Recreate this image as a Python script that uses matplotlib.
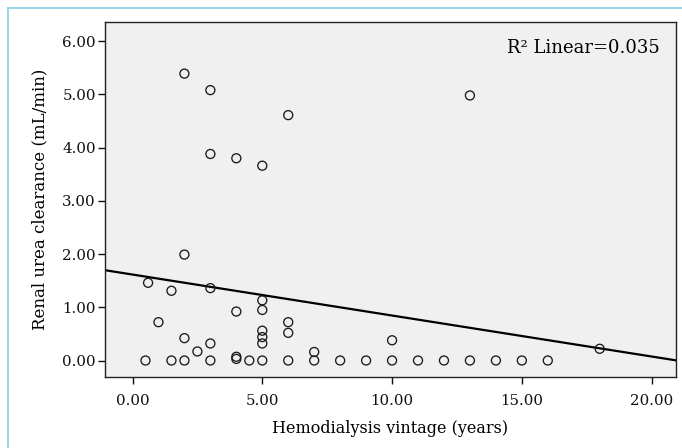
import matplotlib
matplotlib.use("Agg")
import matplotlib.pyplot as plt
from matplotlib.lines import Line2D
import numpy as np

# Data
vintage_years = [2, 3, 6, 13, 3, 4, 5, 2, 0.6, 1.5, 3, 5, 5, 4, 1, 6, 6, 5, 5, 5,
                 2, 3, 2.5, 7, 4, 4, 10, 18,
                 0.5, 1.5, 2, 3, 4.5, 5, 6, 7, 8, 9, 10, 11, 12, 13, 14, 15, 16]
urea_clearance = [5.39, 5.08, 4.61, 4.98, 3.88, 3.80, 3.66, 1.99, 1.46, 1.31, 1.36,
                  1.13, 0.95, 0.92, 0.72, 0.72, 0.52, 0.56, 0.44, 0.32,
                  0.42, 0.32, 0.17, 0.16, 0.07, 0.03, 0.38, 0.22,
                  0, 0, 0, 0, 0, 0, 0, 0, 0, 0, 0, 0, 0, 0, 0, 0, 0]
fit_intercept = 1.615
fit_slope = -0.077
r2_label = "R² Linear=0.035"
x_ticks = [0, 5, 10, 15, 20]
y_ticks = [0, 1, 2, 3, 4, 5, 6]

plt.rcParams['font.family'] = ['DejaVu Serif']

fig = plt.figure(figsize=(6.82, 4.48), dpi=100)
fig.patch.set_facecolor('white')

# light cyan frame on left and top
border = '#8dd6e6'
fig.add_artist(Line2D([8/682, 8/682], [0, 1 - 8/448], transform=fig.transFigure,
                      color=border, lw=1.3))
fig.add_artist(Line2D([8/682, 1], [1 - 8/448, 1 - 8/448], transform=fig.transFigure,
                      color=border, lw=1.3))

ax = fig.add_axes([105/682, 1 - 377/448, 571/682, 355/448])
ax.set_facecolor('#f0f0f0')

ax.scatter(vintage_years, urea_clearance, s=42, facecolors='none',
           edgecolors='#1a1a1a', linewidths=0.95, zorder=3)

xlim = (-1.06, 20.94)
xs = np.array(xlim)
ax.plot(xs, fit_intercept + fit_slope * xs, color='black', lw=1.6, zorder=2)

ax.set_xlim(*xlim)
ax.set_ylim(-0.31, 6.36)
ax.set_xticks(x_ticks)
ax.set_xticklabels([f"{v:.2f}" for v in x_ticks])
ax.set_yticks(y_ticks)
ax.set_yticklabels([f"{v:.2f}" for v in y_ticks])
ax.tick_params(direction='out', length=5, width=1, labelsize=10.8, colors='#111111')
ax.tick_params(axis='x', pad=7)
ax.tick_params(axis='y', pad=1.5)
for sp in ax.spines.values():
    sp.set_color('#222222')
    sp.set_linewidth(1.0)

ax.set_xlabel("Hemodialysis vintage (years)", fontsize=11.5, labelpad=9)
ax.set_ylabel("Renal urea clearance (mL/min)", fontsize=12, labelpad=10)

ax.text(0.972, 0.927, r2_label, transform=ax.transAxes, ha='right', va='center',
        fontsize=13)

fig.savefig("out.png", dpi=100)
